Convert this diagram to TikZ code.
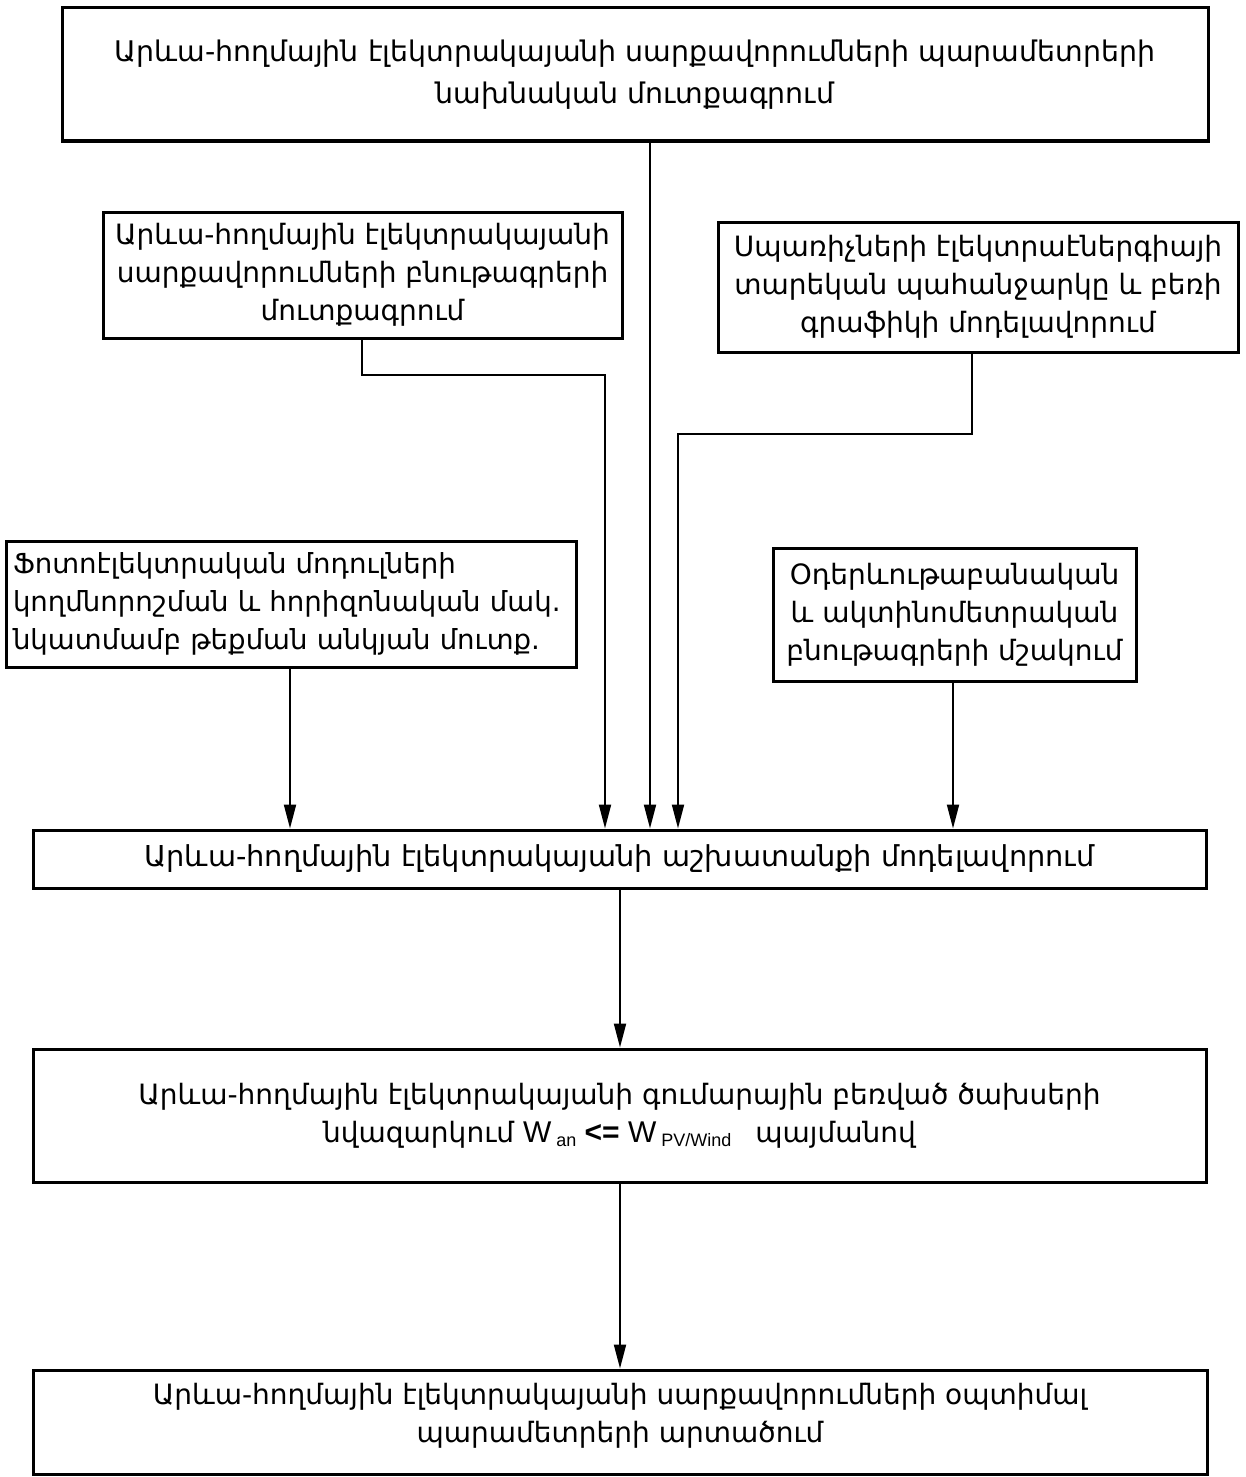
\documentclass[tikz,border=0pt]{standalone}
\usepackage{fontspec}
\setmainfont{DejaVu Sans}
\newfontfamily\latn{Liberation Sans}
\usetikzlibrary{arrows.meta}
\tikzset{
  box/.style={draw=black, line width=1.5pt, inner sep=0pt, align=center},
  conn/.style={draw=black, line width=1pt},
  arr/.style={conn, -{Triangle[length=12pt,width=6pt]}},
}
\newcommand{\bigtxt}{\fontsize{14.2}{21}\selectfont}
\newcommand{\midtxt}{\fontsize{14}{19}\selectfont}
\newcommand{\sixtxt}{\fontsize{14.4}{19}\selectfont}
\begin{document}
\begin{tikzpicture}[x=0.5pt,y=-0.5pt]
\useasboundingbox (0,0) rectangle (1246,1477);
\node[box, minimum width=573pt, minimum height=66.5pt, font=\bigtxt] (b1) at (635,74.5)
  {Արևա-հողմային էլեկտրակայանի սարքավորումների պարամետրերի\\նախնական մուտքագրում};
\node[box, minimum width=259.5pt, minimum height=63pt, font=\midtxt] (b2) at (362.5,275)
  {Արևա-հողմային էլեկտրակայանի\\սարքավորումների բնութագրերի\\մուտքագրում};
\node[box, minimum width=260pt, minimum height=65pt, font=\midtxt] (b3) at (978,287)
  {Սպառիչների էլեկտրաէներգիայի\\տարեկան պահանջարկը և բեռի\\գրաֆիկի մոդելավորում};
\node[box, minimum width=285pt, minimum height=63pt, font=\fontsize{13.8}{19}\selectfont,
      align=left, text width=278pt] (b4) at (291,604)
  {Ֆոտոէլեկտրական մոդուլների\\կողմնորոշման և հորիզոնական մակ.\\նկատմամբ թեքման անկյան մուտք.};
\node[box, minimum width=181.5pt, minimum height=66.5pt, font=\midtxt] (b5) at (954.5,614.5)
  {Օդերևութաբանական\\և ակտինոմետրական\\բնութագրերի մշակում};
\node[box, minimum width=586.5pt, minimum height=29pt, font=\sixtxt] (b6) at (619.5,859)
  {Արևա-հողմային էլեկտրակայանի աշխատանքի մոդելավորում};
\node[box, minimum width=586.5pt, minimum height=66.5pt, font=\midtxt] (b7) at (619.5,1115.5)
  {Արևա-հողմային էլեկտրակայանի գումարային բեռված ծախսերի\\նվազարկում {\latn\fontsize{15}{19}\selectfont W\,\raisebox{-0.3ex}{\fontsize{9}{9}\selectfont an} {\bfseries <=} W\,\raisebox{-0.3ex}{\fontsize{9}{9}\selectfont PV/Wind}}\hspace{12pt}պայմանով};
\node[box, minimum width=587pt, minimum height=52pt, font=\midtxt] (b8) at (620,1422)
  {\raisebox{3pt}[\height][\depth]{\begin{tabular}{@{}c@{}}Արևա-հողմային էլեկտրակայանի սարքավորումների օպտիմալ\\պարամետրերի արտածում\end{tabular}}};
% connector guide coordinates
\coordinate (x1) at (650,0);
\coordinate (x2a) at (362,375);
\coordinate (x2b) at (605,375);
\coordinate (x3a) at (972,434);
\coordinate (x3b) at (678,434);
\coordinate (x4) at (290,0);
\coordinate (x5) at (953,0);
\coordinate (x6) at (620,0);
\draw[arr] (x1 |- b1.south) -- (x1 |- b6.north);
\draw[arr] (x2a |- b2.south) -- (x2a) -- (x2b) -- (x2b |- b6.north);
\draw[arr] (x3a |- b3.south) -- (x3a) -- (x3b) -- (x3b |- b6.north);
\draw[arr] (x4 |- b4.south) -- (x4 |- b6.north);
\draw[arr] (x5 |- b5.south) -- (x5 |- b6.north);
\draw[arr] (x6 |- b6.south) -- (x6 |- b7.north);
\draw[arr] (x6 |- b7.south) -- (x6 |- b8.north);
\end{tikzpicture}
\end{document}
